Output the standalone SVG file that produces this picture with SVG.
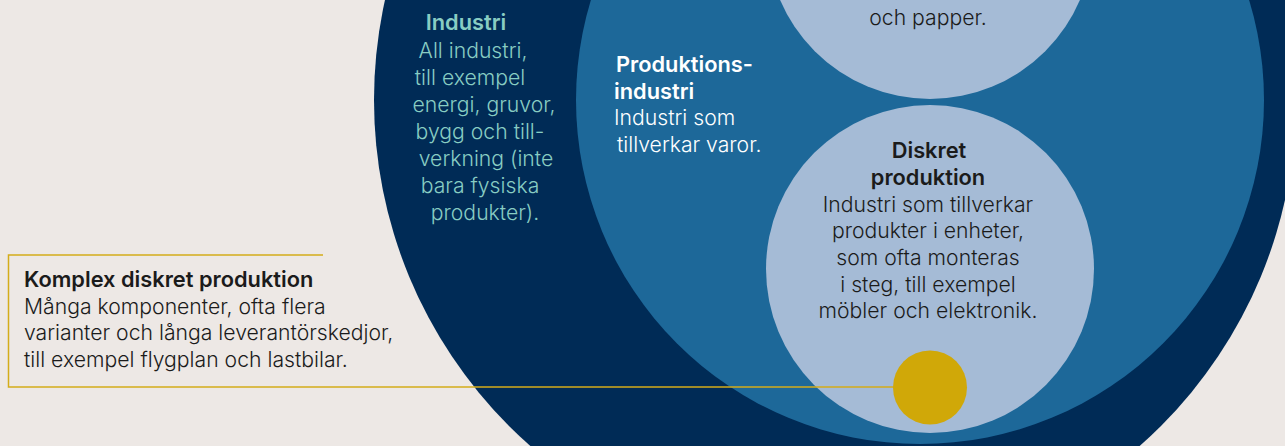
<svg xmlns="http://www.w3.org/2000/svg" width="1285" height="446" viewBox="0 0 1285 446">
<style>
.bg{fill:#ede8e5}
.navy{fill:#002b56}
.mid{fill:#1d6899}
.light{fill:#a5bbd6}
.gold{fill:#d0a808}
.conn{stroke:#d4ac1a;stroke-width:1.5;fill:none}
text{font-family:Inter,"Liberation Sans",sans-serif;font-size:21.2px}
.h{font-weight:600;font-size:21.8px}
.b{font-weight:300}
.teal{fill:#88cdc3}
.white{fill:#ffffff}
.dark{fill:#1b1b1b}
.c{text-anchor:middle}
</style>
<rect class="bg" x="0" y="0" width="1285" height="446"/>
<g id="industri">
<circle class="navy" cx="835" cy="100" r="461"/>
<g class="teal c">
<text class="h" x="466" y="30">Industri</text>
<text class="b" x="473" y="58">All industri,</text>
<text class="b" x="470" y="85">till exempel</text>
<text class="b" x="484" y="112">energi, gruvor,</text>
<text class="b" x="480" y="139">bygg och till-</text>
<text class="b" x="486" y="166">verkning (inte</text>
<text class="b" x="480" y="193">bara fysiska</text>
<text class="b" x="485" y="220">produkter).</text>
</g>
</g>
<g id="produktionsindustri">
<circle class="mid" cx="920" cy="100" r="344"/>
<g class="white">
<text class="h" x="616" y="72">Produktions-</text>
<text class="h" x="614" y="99">industri</text>
<text class="b" x="614" y="125">Industri som</text>
<text class="b" x="617" y="152">tillverkar varor.</text>
</g>
</g>
<g id="processindustri">
<circle class="light" cx="930" cy="-64" r="163"/>
<text class="b dark c" x="928" y="25">och papper.</text>
</g>
<g id="diskret">
<circle class="light" cx="930" cy="269" r="164"/>
<g class="dark c">
<text class="h" x="929" y="158">Diskret</text>
<text class="h" x="928" y="185">produktion</text>
<text class="b" x="928" y="212">Industri som tillverkar</text>
<text class="b" x="928" y="238">produkter i enheter,</text>
<text class="b" x="928" y="265">som ofta monteras</text>
<text class="b" x="928" y="292">i steg, till exempel</text>
<text class="b" x="928" y="318">möbler och elektronik.</text>
</g>
</g>
<g id="connectors">
<polyline class="conn" points="323,255 8.5,255 8.5,387 894,387"/>
</g>
<g id="komplex">
<circle class="gold" cx="930" cy="387.5" r="37"/>
<g class="dark">
<text class="h" x="24" y="287">Komplex diskret produktion</text>
<text class="b" x="24" y="314">Många komponenter, ofta flera</text>
<text class="b" x="24" y="340">varianter och långa leverantörskedjor,</text>
<text class="b" x="24" y="367">till exempel flygplan och lastbilar.</text>
</g>
</g>
</svg>
